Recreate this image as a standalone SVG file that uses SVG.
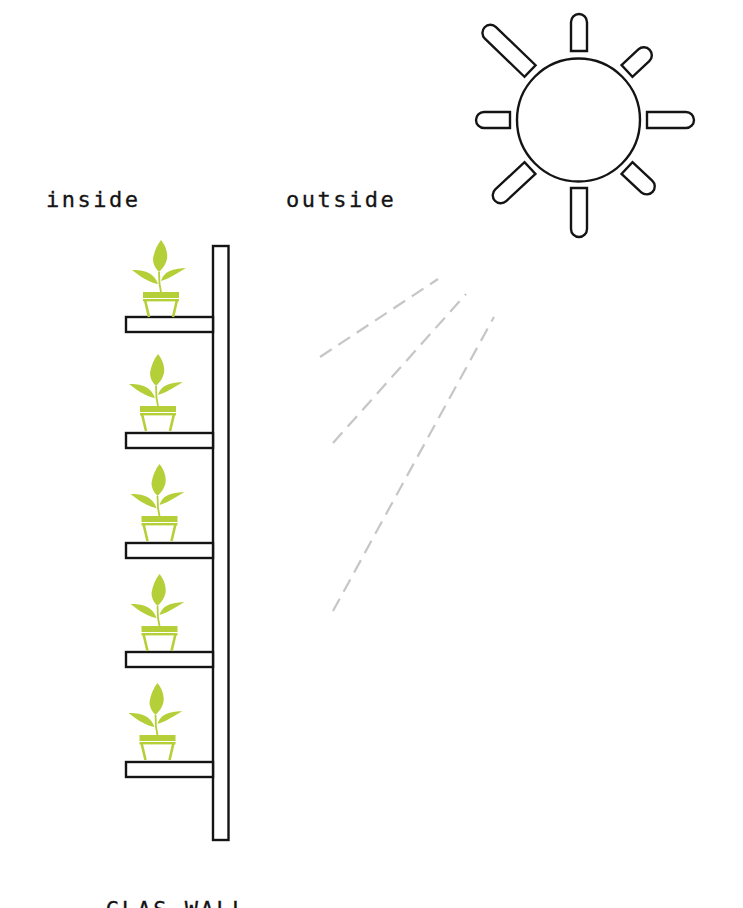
<svg xmlns="http://www.w3.org/2000/svg" width="743" height="908" viewBox="0 0 743 908">
<style>
.o{fill:#fff;stroke:#141414;stroke-width:2.400}
.d{fill:none;stroke:#c6c6c6;stroke-width:2.200;stroke-dasharray:14 8}
.g{fill:#b4cf37}
.s{fill:none;stroke:#b4cf37}
text{font-family:"DejaVu Sans Mono","Liberation Mono",monospace;font-size:22px;letter-spacing:2.500px;fill:#141414;stroke:#141414;stroke-width:.3}
</style>
<defs>
<g id="plant">
<path class="g" d="M18,-52 C22,-47 25,-40 24,-33 C23,-28 20,-24 16,-20 C12,-24 10,-28 10,-33 C11,-40 14,-47 18,-52Z"/>
<path class="g" d="M-11,-22 C0,-22 11,-20 15,-8 C8,-9 2,-13 -3,-16 Z"/>
<path class="g" d="M43,-24 C33,-23 22,-23 18,-11 C24,-13 28,-15 33,-18 Z"/>
<path class="s" stroke-width="1.800" d="M16,-20 L16.500,-8 L18,0"/>
<rect class="g" x="0" y="0" width="36" height="6"/>
<rect class="g" x="0" y="7" width="36" height="2.400"/>
<path class="s" stroke-width="2.600" d="M2,8 L6,25 M34,8 L30,25"/>
</g>
</defs>
<g id="connectors">
<line class="d" x1="320" y1="357" x2="438" y2="279"/>
<line class="d" x1="333" y1="443" x2="466" y2="294"/>
<line class="d" x1="333" y1="611" x2="494" y2="317"/>
</g>
<g id="wall"><rect class="o" x="213" y="246" width="15.500" height="594"/></g>
<g id="shelf-1"><rect class="o" x="126" y="317" width="87" height="15"/></g>
<g id="shelf-2"><rect class="o" x="126" y="433" width="87" height="15"/></g>
<g id="shelf-3"><rect class="o" x="126" y="543" width="87" height="15"/></g>
<g id="shelf-4"><rect class="o" x="126" y="652" width="87" height="15"/></g>
<g id="shelf-5"><rect class="o" x="126" y="762" width="87" height="15"/></g>
<g id="plant-1"><use href="#plant" x="143" y="292"/></g>
<g id="plant-2"><use href="#plant" x="140" y="406"/></g>
<g id="plant-3"><use href="#plant" x="141.500" y="516"/></g>
<g id="plant-4"><use href="#plant" x="141.500" y="626"/></g>
<g id="plant-5"><use href="#plant" x="139.500" y="735"/></g>
<g id="sun">
<circle class="o" cx="578.500" cy="120" r="61.500"/>
<path class="o" d="M571,51V22A8,8 0 0 1 587,22V51Z"/>
<path class="o" d="M571,188V229A8,8 0 0 0 587,229V188Z"/>
<path class="o" d="M510,112H484A8,8 0 0 0 484,128H510Z"/>
<path class="o" d="M647,112H686A8,8 0 0 1 686,128H647Z"/>
<path class="o" transform="translate(530 71) rotate(224)" d="M0,-8H55A8,8 0 0 1 55,8H0Z"/>
<path class="o" transform="translate(627 71) rotate(-43)" d="M0,-8H23A8,8 0 0 1 23,8H0Z"/>
<path class="o" transform="translate(530 168) rotate(137)" d="M0,-8H40A8,8 0 0 1 40,8H0Z"/>
<path class="o" transform="translate(627 168) rotate(43)" d="M0,-8H27A8,8 0 0 1 27,8H0Z"/>
</g>
<g id="labels">
<text x="46" y="207">inside</text>
<text x="286" y="207">outside</text>
<text x="106" y="917">GLAS WALL</text>
</g>
</svg>
